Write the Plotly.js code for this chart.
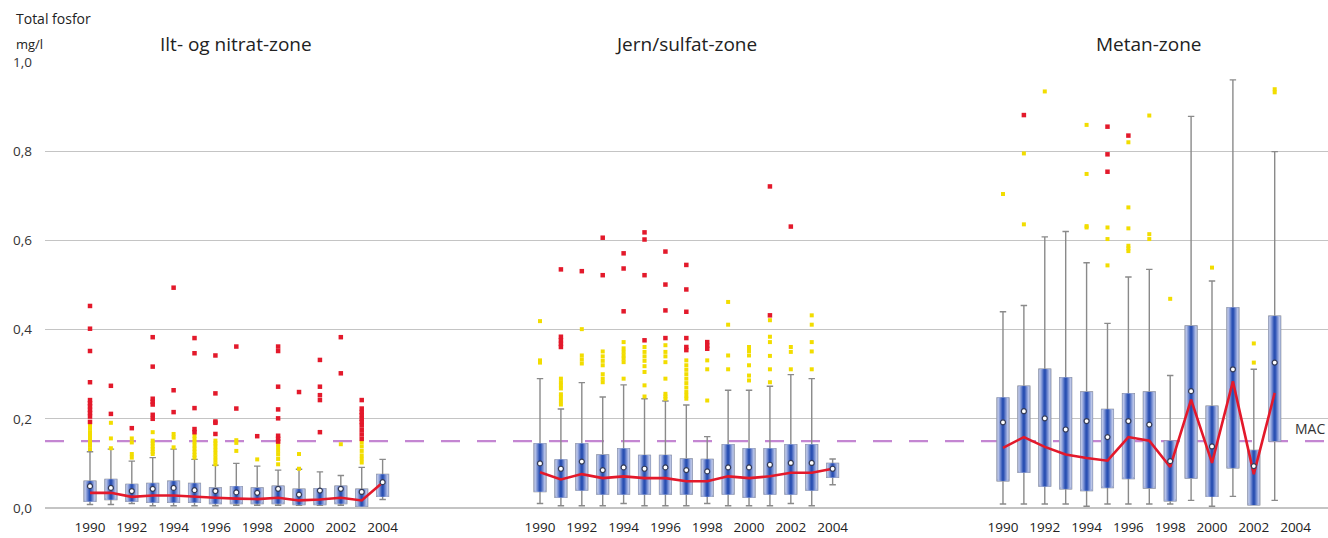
<!DOCTYPE html>
<html>
<head>
<meta charset="utf-8">
<script src="https://cdn.plot.ly/plotly-3.0.1.min.js"></script>
<style>html,body{margin:0;padding:0;background:#fff;}#chart{width:1328px;height:538px;}</style>
</head>
<body>
<div id="chart"></div>
<script>
// ---------------- DATA ----------------
const zoneNames = ["Ilt- og nitrat-zone", "Jern/sulfat-zone", "Metan-zone"];
const years = [1990,1991,1992,1993,1994,1995,1996,1997,1998,1999,2000,2001,2002,2003,2004];
const tickYears = [1990,1992,1994,1996,1998,2000,2002,2004];
const MAC = 0.15;

// Ilt- og nitrat-zone
const z1Q1   = [0.015,0.019,0.015,0.013,0.013,0.013,0.010,0.010,0.010,0.010,0.008,0.008,0.010,0.004,0.026];
const z1Med  = [0.034,0.034,0.025,0.028,0.028,0.025,0.023,0.021,0.020,0.023,0.017,0.019,0.023,0.017,0.057];
const z1Q3   = [0.060,0.064,0.053,0.055,0.060,0.055,0.045,0.048,0.045,0.049,0.042,0.043,0.049,0.042,0.075];
const z1Mean = [0.049,0.045,0.038,0.043,0.045,0.040,0.038,0.035,0.034,0.043,0.030,0.039,0.043,0.036,0.058];
const z1Lo   = [0.008,0.008,0.010,0.005,0.005,0.005,0.005,0.006,0.006,0.006,0.006,0.006,0.006,0.004,0.019];
const z1Hi   = [0.126,0.132,0.105,0.113,0.132,0.109,0.096,0.100,0.094,0.085,0.087,0.081,0.073,0.091,0.109];
const z1Mild = [
  [0.185,0.178,0.170,0.162,0.155,0.147,0.140,0.132],
  [0.191,0.156,0.134],
  [0.156,0.147,0.121,0.113],
  [0.170,0.151,0.145,0.138,0.132,0.126,0.121],
  [0.166,0.158,0.136],
  [0.162,0.155,0.148,0.140,0.133,0.126,0.119,0.113],
  [0.151,0.145,0.138,0.130,0.122,0.114,0.106,0.098],
  [0.152,0.146,0.128],
  [0.109],
  [0.143,0.136,0.128,0.120,0.110,0.098],
  [0.121,0.088],
  [],
  [0.143],
  [0.147,0.138,0.128,0.118,0.110,0.102],
  []
];
const z1Extreme = [
  [0.453,0.402,0.352,0.282,0.242,0.235,0.228,0.220,0.213,0.205,0.193],
  [0.274,0.211],
  [0.179],
  [0.383,0.317,0.245,0.238,0.232,0.209,0.200],
  [0.494,0.264,0.215],
  [0.381,0.347,0.224,0.177,0.170],
  [0.342,0.257,0.194,0.191,0.166],
  [0.362,0.223],
  [0.161],
  [0.362,0.352,0.272,0.221,0.201,0.162,0.155,0.149],
  [0.260],
  [0.332,0.272,0.253,0.242,0.170],
  [0.383,0.302],
  [0.242,0.223,0.215,0.208,0.200,0.193,0.185,0.175,0.165,0.155],
  []
];

// Jern/sulfat-zone
const z2Q1   = [0.037,0.024,0.040,0.031,0.031,0.031,0.031,0.031,0.026,0.031,0.024,0.031,0.031,0.040,0.069];
const z2Med  = [0.080,0.064,0.076,0.067,0.071,0.067,0.067,0.060,0.060,0.071,0.067,0.071,0.079,0.079,0.088];
const z2Q3   = [0.144,0.108,0.144,0.119,0.133,0.118,0.118,0.110,0.109,0.142,0.133,0.133,0.142,0.142,0.100];
const z2Mean = [0.100,0.088,0.104,0.085,0.091,0.088,0.091,0.085,0.082,0.091,0.091,0.097,0.101,0.101,0.088];
const z2Lo   = [0.010,0.005,0.005,0.005,0.010,0.005,0.005,0.005,0.010,0.005,0.005,0.005,0.010,0.005,0.052];
const z2Hi   = [0.290,0.222,0.281,0.249,0.276,0.245,0.240,0.231,0.160,0.264,0.264,0.273,0.299,0.290,0.110];
const z2Mild = [
  [0.419,0.331,0.326],
  [0.290,0.282,0.275,0.268,0.255,0.248,0.240,0.232],
  [0.401,0.342,0.333,0.324],
  [0.351,0.340,0.330,0.320,0.300,0.290,0.282],
  [0.372,0.358,0.350,0.342,0.335,0.327,0.290],
  [0.361,0.350,0.340,0.330,0.318,0.305,0.275,0.250],
  [0.365,0.350,0.340,0.327,0.290,0.256,0.250,0.245],
  [0.331,0.320,0.310,0.300,0.290,0.280,0.270,0.260,0.252,0.245],
  [0.331,0.311,0.241],
  [0.462,0.411,0.342,0.311],
  [0.361,0.352,0.342,0.320,0.297,0.286],
  [0.421,0.384,0.372,0.341,0.311,0.282],
  [0.361,0.350,0.311],
  [0.432,0.411,0.372,0.351,0.311],
  []
];
const z2Extreme = [
  [],
  [0.535,0.384,0.376,0.368,0.361],
  [0.531],
  [0.606,0.522],
  [0.571,0.537,0.441],
  [0.618,0.602,0.522,0.376],
  [0.575,0.501,0.443,0.381],
  [0.545,0.490,0.440,0.381,0.361,0.354],
  [0.372,0.364,0.357],
  [],
  [],
  [0.721,0.432],
  [0.631],
  [],
  []
];

// Metan-zone (1990-2003)
const z3Q1   = [0.061,0.080,0.049,0.043,0.039,0.046,0.066,0.045,0.016,0.067,0.026,0.090,0.007,0.150];
const z3Med  = [0.135,0.159,0.137,0.120,0.112,0.106,0.159,0.151,0.092,0.243,0.101,0.284,0.076,0.258];
const z3Q3   = [0.247,0.273,0.311,0.292,0.260,0.221,0.256,0.260,0.150,0.408,0.228,0.449,0.129,0.430];
const z3Mean = [0.192,0.217,0.201,0.176,0.195,0.159,0.195,0.187,0.105,0.262,0.138,0.311,0.094,0.326];
const z3Lo   = [0.009,0.009,0.009,0.009,0.004,0.009,0.009,0.009,0.009,0.017,0.004,0.026,0.007,0.017];
const z3Hi   = [0.440,0.454,0.608,0.620,0.550,0.414,0.518,0.535,0.297,0.878,0.509,0.960,0.311,0.799];
const z3Mild = [
  [0.704],[0.795,0.636],[0.934],[],[0.859,0.749,0.632,0.629],[0.629,0.603,0.544],
  [0.820,0.674,0.627,0.588,0.582,0.576],[0.880,0.614,0.603],[0.469],[],[0.539],[],[0.369,0.326],[0.939,0.932]
];
const z3Extreme = [
  [],[0.881],[],[],[],[0.855,0.793,0.754],[0.835],[],[],[],[],[],[],[]
];

// ---------------- BUILD ----------------
const groupOffset = [0, 21.53, 43.68];
const zones = [
  {q1:z1Q1, med:z1Med, q3:z1Q3, mean:z1Mean, lo:z1Lo, hi:z1Hi, mild:z1Mild, ext:z1Extreme},
  {q1:z2Q1, med:z2Med, q3:z2Q3, mean:z2Mean, lo:z2Lo, hi:z2Hi, mild:z2Mild, ext:z2Extreme},
  {q1:z3Q1, med:z3Med, q3:z3Q3, mean:z3Mean, lo:z3Lo, hi:z3Hi, mild:z3Mild, ext:z3Extreme}
];
function xpos(g, yr){ return groupOffset[g] + (yr - years[0]); }

let bx=[], bq1=[], bmed=[], bq3=[], blo=[], bhi=[];
let mx=[], mm=[];
let mildX=[], mildY=[], extX=[], extY=[];
const medianTraces = [];
zones.forEach((z,g)=>{
  const lx=[], ly=[];
  z.q1.forEach((v,i)=>{
    const x = xpos(g, years[i]);
    bx.push(x); bq1.push(v); bmed.push(z.med[i]); bq3.push(z.q3[i]); blo.push(z.lo[i]); bhi.push(z.hi[i]);
    mx.push(x); mm.push(z.mean[i]);
    lx.push(x); ly.push(z.med[i]);
    z.mild[i].forEach(o=>{mildX.push(x); mildY.push(o);});
    z.ext[i].forEach(o=>{extX.push(x); extY.push(o);});
  });
  medianTraces.push({type:'scatter', mode:'lines', x:lx, y:ly, line:{color:'#e3192b', width:2.6}, hoverinfo:'skip', showlegend:false});
});

const traces = [];
// whisker layer
traces.push({type:'box', x:bx, q1:bq1, median:bq1, q3:bq3, lowerfence:blo, upperfence:bhi,
  width:0.56, whiskerwidth:0.55, fillcolor:'rgba(0,0,0,0)', line:{color:'#8a8a8a', width:1.4},
  hoverinfo:'skip', showlegend:false, boxpoints:false});
// gradient fill layers (light edges, dark blue centre)
const layers = [
  {w:0.56, c:'#ccd3ee', lc:'#9ca8cc', lw:1},
  {w:0.47, c:'#b0bde6', lc:'rgba(0,0,0,0)', lw:0},
  {w:0.38, c:'#8ea1da', lc:'rgba(0,0,0,0)', lw:0},
  {w:0.28, c:'#6a84cd', lc:'rgba(0,0,0,0)', lw:0},
  {w:0.18, c:'#4667bf', lc:'rgba(0,0,0,0)', lw:0},
  {w:0.09, c:'#2a50b2', lc:'rgba(0,0,0,0)', lw:0}
];
layers.forEach(L=>{
  traces.push({type:'box', x:bx, q1:bq1, median:bq1, q3:bq3, lowerfence:bq1, upperfence:bq3,
    width:L.w, whiskerwidth:0, fillcolor:L.c, line:{color:L.lc, width:L.lw},
    hoverinfo:'skip', showlegend:false, boxpoints:false});
});
// outliers
traces.push({type:'scatter', mode:'markers', x:mildX, y:mildY, marker:{color:'#f2dd00', size:4, symbol:'square'}, hoverinfo:'skip', showlegend:false, cliponaxis:false});
traces.push({type:'scatter', mode:'markers', x:extX, y:extY, marker:{color:'#e3192b', size:4.5, symbol:'square'}, hoverinfo:'skip', showlegend:false, cliponaxis:false});
medianTraces.forEach(t=>traces.push(t));
// means
traces.push({type:'scatter', mode:'markers', x:mx, y:mm, marker:{color:'#ffffff', size:5, line:{color:'#333a55', width:1.2}}, hoverinfo:'skip', showlegend:false});

const tickvals=[], ticktext=[];
[0,1,2].forEach(g=>tickYears.forEach(y=>{tickvals.push(xpos(g,y)); ticktext.push(String(y));}));

const font = '"Open Sans", Lato, sans-serif';
const annotations = zoneNames.map((n,g)=>({
  text:n, xref:'x', yref:'paper', x: xpos(g, 1997), y:1.0, yanchor:'middle', yshift:18, showarrow:false,
  font:{family:font, size:19, color:'#222'}
}));
annotations.push({text:'Total fosfor', xref:'paper', yref:'paper', x:0, xanchor:'left', xshift:-31, y:1.0, yanchor:'middle', yshift:44, showarrow:false, font:{family:font, size:14, color:'#222'}});
annotations.push({text:'mg/l', xref:'paper', yref:'paper', x:0, xanchor:'left', xshift:-31, y:1.0, yanchor:'middle', yshift:18, showarrow:false, font:{family:font, size:13, color:'#222'}});
annotations.push({text:'MAC', xref:'paper', yref:'y', x:0.999, xanchor:'right', y:MAC, yanchor:'bottom', yshift:1, showarrow:false, font:{family:font, size:14, color:'#333'}});

const layout = {
  width:1328, height:538,
  margin:{l:45, r:0, t:62, b:30},
  paper_bgcolor:'#fff', plot_bgcolor:'#fff',
  separators:',.',
  boxmode:'overlay',
  showlegend:false,
  font:{family:font, color:'#222'},
  xaxis:{range:[-2.153, 59.23], tickvals:tickvals, ticktext:ticktext, showgrid:false, zeroline:false,
    showline:false, ticks:'', ticklabelstandoff:9, tickfont:{family:font, size:13.5, color:'#222'}, fixedrange:true},
  yaxis:{range:[0,1.0], dtick:0.2, tickformat:'.1f', showgrid:true, gridcolor:'#c4c4c4', gridwidth:1.3,
    zeroline:true, zerolinecolor:'#c4c4c4', zerolinewidth:1.3, showline:false, ticks:'', ticklabelstandoff:12,
    tickfont:{family:font, size:13.5, color:'#333'}, fixedrange:true},
  shapes:[{type:'line', xref:'paper', x0:0, x1:1, yref:'y', y0:MAC, y1:MAC, layer:'between',
    line:{color:'#c486d2', width:2.2, dash:'19px,17px'}}],
  annotations:annotations
};

Plotly.newPlot('chart', traces, layout, {staticPlot:true, displayModeBar:false});
</script>
</body>
</html>
